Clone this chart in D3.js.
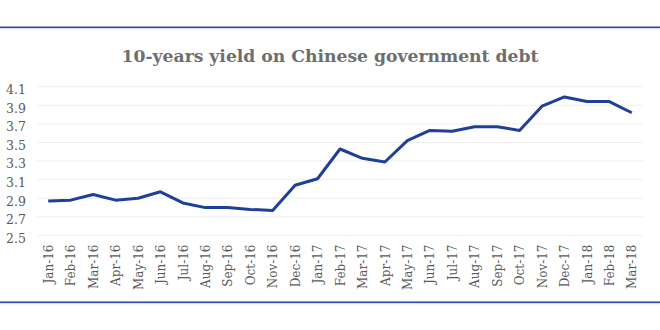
<!DOCTYPE html>
<html>
<head>
<meta charset="utf-8">
<script src="https://cdn.jsdelivr.net/npm/d3@7"></script>
<style>
  html, body { margin: 0; padding: 0; background: #fff; }
  svg { display: block; }
</style>
</head>
<body>
<svg id="chart" width="660" height="330"></svg>
<script>
// Monthly 10-year yield on Chinese government bonds, %
const months = ["Jan-16","Feb-16","Mar-16","Apr-16","May-16","Jun-16","Jul-16","Aug-16","Sep-16","Oct-16","Nov-16","Dec-16",
                "Jan-17","Feb-17","Mar-17","Apr-17","May-17","Jun-17","Jul-17","Aug-17","Sep-17","Oct-17","Nov-17","Dec-17",
                "Jan-18","Feb-18","Mar-18"];
const yields = [2.87, 2.88, 2.94, 2.88, 2.90, 2.97, 2.85, 2.80, 2.80, 2.78, 2.77, 3.04,
                3.11, 3.43, 3.33, 3.29, 3.52, 3.63, 3.62, 3.67, 3.67, 3.63, 3.89, 3.99,
                3.94, 3.94, 3.82];
const yTicks = [2.5, 2.7, 2.9, 3.1, 3.3, 3.5, 3.7, 3.9, 4.1];
const title = "10-years yield on Chinese government debt";

const svg = d3.select("#chart");
const W = 660, H = 330;
const plot = { left: 37, right: 643, top: 86.7, bottom: 235.5 };
const serif = "Georgia, 'DejaVu Serif', serif";

// Decorative blue rules above and below
[27.3, 302.3].forEach(y => {
  svg.append("line")
    .attr("x1", 0).attr("x2", W).attr("y1", y).attr("y2", y)
    .attr("stroke", "#2a47a6").attr("stroke-width", 1.5);
  svg.append("line")
    .attr("x1", 0).attr("x2", W).attr("y1", y + 1.4).attr("y2", y + 1.4)
    .attr("stroke", "#c3cde8").attr("stroke-width", 0.8);
});

svg.append("text")
  .attr("x", W / 2).attr("y", 61.5)
  .attr("text-anchor", "middle")
  .attr("font-family", serif)
  .attr("font-weight", "bold")
  .attr("font-size", 17.2)
  .attr("fill", "#6e6e6e")
  .text(title);

const x = d3.scalePoint().domain(months).range([plot.left, plot.right]).padding(0.5);
const y = d3.scaleLinear().domain([2.5, 4.1]).range([plot.bottom, plot.top]);

// Horizontal gridlines
svg.append("g")
  .selectAll("line")
  .data(yTicks)
  .join("line")
  .attr("x1", plot.left).attr("x2", plot.right)
  .attr("y1", d => y(d)).attr("y2", d => y(d))
  .attr("stroke", "#eeeeee").attr("stroke-width", 1);

// Y axis labels
const yAxis = svg.append("g")
  .attr("transform", `translate(${plot.left - 11},0)`)
  .call(d3.axisLeft(y).tickValues(yTicks).tickFormat(d3.format(".1f")).tickSize(0).tickPadding(0));
yAxis.select(".domain").remove();
yAxis.selectAll("text")
  .attr("font-family", serif).attr("font-size", 12.5).attr("fill", "#5a5a5a")
  .attr("dy", "0.55em");

// X axis labels (rotated)
const xAxis = svg.append("g")
  .attr("transform", `translate(0,${plot.bottom + 9})`)
  .call(d3.axisBottom(x).tickSize(0).tickPadding(0));
xAxis.select(".domain").remove();
xAxis.selectAll("text")
  .attr("font-family", serif).attr("font-size", 12).attr("fill", "#5a5a5a")
  .attr("text-anchor", "end")
  .attr("transform", "rotate(-90)")
  .attr("x", 0).attr("y", 0).attr("dx", 0).attr("dy", "0.35em");

// Yield line
svg.append("path")
  .datum(yields)
  .attr("fill", "none")
  .attr("stroke", "#1f3f99")
  .attr("stroke-width", 3)
  .attr("stroke-linejoin", "round")
  .attr("d", d3.line().x((d, i) => x(months[i])).y(d => y(d)));
</script>
</body>
</html>
